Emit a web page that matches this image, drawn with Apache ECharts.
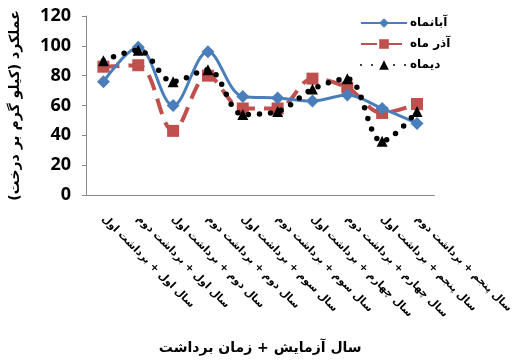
<!DOCTYPE html>
<html><head><meta charset="utf-8">
<script src="https://cdn.jsdelivr.net/npm/echarts@6/dist/echarts.min.js"></script>
<style>html,body{margin:0;padding:0;background:#fff}#c{width:515px;height:360px}</style>
</head><body><div id="c"></div>
<script>
var categories = [
  'سال اول + برداشت اول','سال اول + برداشت دوم',
  'سال دوم + برداشت اول','سال دوم + برداشت دوم',
  'سال سوم + برداشت اول','سال سوم + برداشت دوم',
  'سال چهارم + برداشت اول','سال چهارم + برداشت دوم',
  'سال پنجم + برداشت اول','سال پنجم + برداشت دوم'
];
var aban = [76, 99, 60, 96, 66, 65, 63, 67, 58, 48];
var azar = [86, 87, 43, 80, 58, 58, 78, 72, 55, 61];
var dey  = [90, 97, 76, 84, 54, 56, 71, 78, 36, 56];
var yTicks = [0, 20, 40, 60, 80, 100, 120];

var F = '"DejaVu Sans", sans-serif';
var chart = echarts.init(document.getElementById('c'));
chart.setOption({
  animation: false,
  backgroundColor: '#fff',
  grid: {left: 80, right: 69, top: 16, bottom: 162},
  legend: {
    orient: 'vertical', left: 355, top: 12, itemWidth: 46, itemHeight: 12, itemGap: 9,
    textStyle: {fontFamily: F, fontWeight: 'bold', fontSize: 12, color: '#000', padding: [0,0,0,-2]},
    data: ['آبانماه', 'آذر ماه', 'دیماه']
  },
  xAxis: {
    type: 'category', data: categories,
    name: 'سال آزمایش + زمان برداشت', nameLocation: 'middle', nameGap: 146,
    nameTextStyle: {fontFamily: F, fontWeight: 'bold', fontSize: 14, color: '#000'},
    axisLine: {lineStyle: {color: '#8a8a8a'}},
    axisTick: {length: 5, lineStyle: {color: '#8a8a8a'}},
    axisLabel: {rotate: -45, interval: 0, margin: 22, fontFamily: F, fontWeight: 'bold', fontSize: 10.5, color: '#000'}
  },
  yAxis: {
    type: 'value', min: 0, max: 120, interval: 20,
    name: 'عملکرد (کیلو گرم بر درخت)', nameLocation: 'middle', nameGap: 64, nameRotate: 90,
    nameTextStyle: {fontFamily: F, fontWeight: 'bold', fontSize: 14, color: '#000'},
    splitLine: {show: false},
    axisLine: {show: true, lineStyle: {color: '#8a8a8a'}},
    axisTick: {show: true, length: 4, lineStyle: {color: '#8a8a8a'}},
    axisLabel: {margin: 15, fontFamily: '"Open Sans", sans-serif', fontWeight: 'bold', fontSize: 18, color: '#000',
      formatter: function(v){ return yTicks.indexOf(v) >= 0 ? String(v) : ''; }}
  },
  series: [
    {name: 'آبانماه', type: 'line', data: aban, smooth: 0.35,
     symbol: 'diamond', symbolSize: 13, z: 3,
     itemStyle: {color: '#4a7ebb'}, lineStyle: {color: '#4a7ebb', width: 3}},
    {name: 'آذر ماه', type: 'line', data: azar, smooth: 0.35,
     symbol: 'rect', symbolSize: 12, z: 2,
     itemStyle: {color: '#c0504d'}, lineStyle: {color: '#c0504d', width: 4, type: [16, 9]}},
    {name: 'دیماه', type: 'line', data: dey, smooth: 0.35,
     symbol: 'triangle', symbolSize: 11, z: 4,
     itemStyle: {color: '#000'}, lineStyle: {color: '#000', width: 5.5, type: [0, 11], cap: 'round'}}
  ]
});
</script></body></html>
